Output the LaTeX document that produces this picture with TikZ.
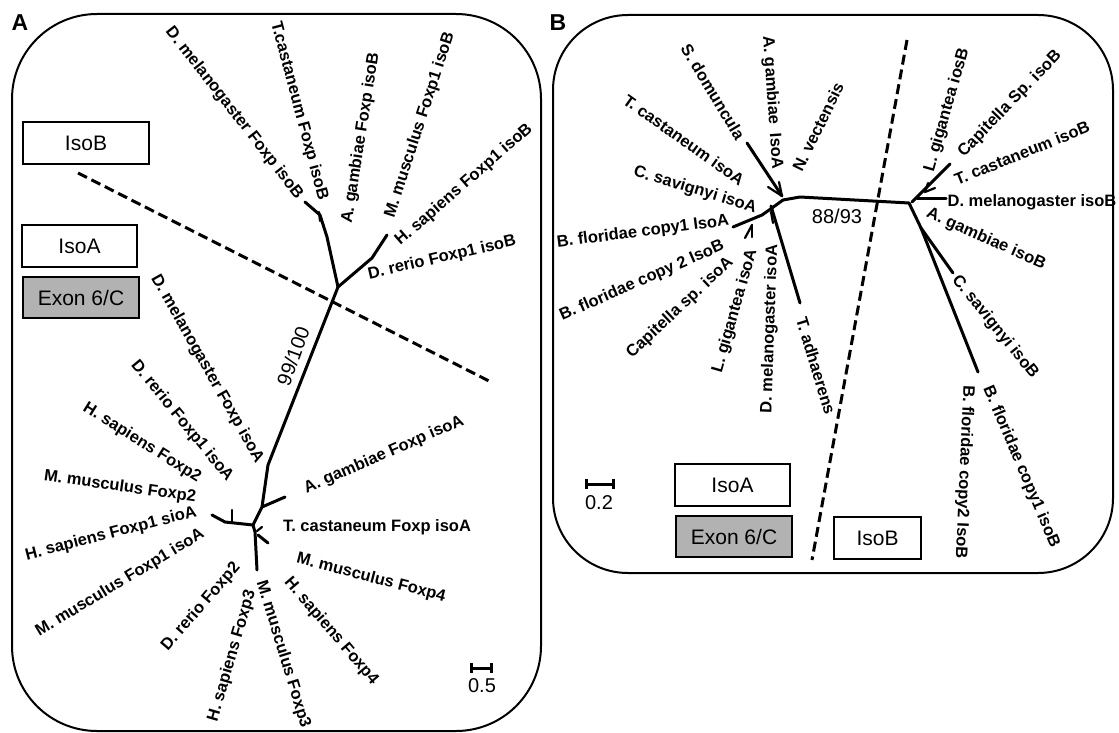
\documentclass[tikz,border=0pt]{standalone}
\usepackage{fontspec}
\usetikzlibrary{calc}
\setmainfont{Liberation Sans}
\begin{document}
\begin{tikzpicture}[x=1pt,y=-1pt,
  lab/.style={font=\fontsize{16.5}{19}\selectfont\bfseries, inner sep=0pt},
  num/.style={font=\fontsize{20}{23}\selectfont, inner sep=0pt},
  br/.style={line width=3pt, line cap=round, line join=round},
  tick/.style={line width=2.2pt, line cap=round},
  frm/.style={line width=2pt},
  legbox/.style={draw, line width=2.8pt, font=\fontsize{21}{24}\selectfont, inner sep=0pt},
  divider/.style={line width=3pt, dash pattern=on 10pt off 5pt},
  panel/.style={font=\fontsize{23}{26}\selectfont\bfseries, inner sep=0pt},
  sbar/.style={line width=3pt}]
\useasboundingbox (0,0) rectangle (1119,733);

% ---------------- Panel A ----------------
\node[panel] (PA) at (20,23) {A};
\draw[frm, rounded corners=85pt] (12,14) rectangle (541,731);

\node[legbox, minimum width=126pt, minimum height=42pt] (AisoB) at (86,143) {IsoB};
\node[legbox, minimum width=115pt, minimum height=42pt] (AisoA) at (79.5,246) {IsoA};
\node[legbox, fill=black!30, minimum width=116pt, minimum height=41pt] (Aexon) at (81,297.5) {Exon 6/C};

\coordinate (Ad1) at (78,173);
\coordinate (Ad2) at (491,382);
\draw[divider] (Ad1) -- (Ad2);

% tree A
\coordinate (a0) at (338,287);
\coordinate (a1) at (327,237);
\coordinate (a2) at (320,215);
\coordinate (a3) at (305,202);
\coordinate (a4) at (372,258);
\coordinate (a5) at (387,235);
\coordinate (a6) at (268,465);
\coordinate (a7) at (262,507);
\coordinate (a8) at (285,497);
\coordinate (a9) at (253,525);
\coordinate (a10) at (225,522);
\coordinate (a11) at (212,515);
\coordinate (a12) at (255,532);
\coordinate (a13) at (257,570);
\coordinate (a14) at (258,535);
\coordinate (a15) at (268,543);
\coordinate (t1a) at (319,212);
\coordinate (t1b) at (320,221);
\coordinate (t2a) at (232,510);
\coordinate (t2b) at (232,522);
\coordinate (t3a) at (257,531);
\coordinate (t3b) at (262,527);
\draw[br] (a3) -- (a2) -- (a1) -- (a0) -- (a4) -- (a5);
\draw[br] (a0) -- (a6) -- (a7) -- (a9) -- (a10) -- (a11);
\draw[br] (a7) -- (a8);
\draw[br] (a9) -- (a12) -- (a13);
\draw[br] (a14) -- (a15);
\draw[tick] (t1a) -- (t1b);
\draw[tick] (t2a) -- (t2b);
\draw[tick] (t3a) -- (t3b);

\node[num, rotate=70] (A99) at (293,356) {99/100};

% labels A
\node[lab, rotate=-52] (LA1) at (234,113) {D. melanogaster Foxp isoB};
\node[lab, rotate=-75] (LA2) at (299,111) {T.castaneum Foxp isoB};
\node[lab, rotate=81] (LA3) at (361,138) {A. gambiae Foxp isoB};
\node[lab, rotate=72] (LA4) at (420,125) {M. musculus Foxp1 isoB};
\node[lab, rotate=41] (LA5) at (464,185) {H. sapiens Foxp1 isoB};
\node[lab, rotate=13] (LA6) at (442,258) {D. rerio Foxp1 isoB};
\node[lab, rotate=-60.5] (LA7) at (207,369) {D. melanogaster Foxp isoA};
\node[lab, rotate=-50.5] (LA8) at (182,421) {D. rerio Foxp1 isoA};
\node[lab, rotate=-32] (LA9) at (142,443) {H. sapiens Foxp2};
\node[lab, rotate=-8] (LA10) at (120,487) {M. musculus Foxp2};
\node[lab, rotate=14.4] (LA11) at (111,534) {H. sapiens Foxp1 sioA};
\node[lab, rotate=31] (LA12) at (120,583) {M. musculus Foxp1 isoA};
\node[lab, rotate=49] (LA13) at (201,607) {D. rerio Foxp2};
\node[lab, rotate=73.7] (LA14) at (232,656) {H. sapiens Foxp3};
\node[lab, rotate=-73] (LA15) at (283,654) {M. musculus Foxp3};
\node[lab, rotate=-49.6] (LA16) at (331,631) {H. sapiens Foxp4};
\node[lab, rotate=-14.5] (LA17) at (371,578) {M. musculus Foxp4};
\node[lab] (LA18) at (377,527) {T. castaneum Foxp isoA};
\node[lab, rotate=23.5] (LA19) at (384,455) {A. gambiae Foxp isoA};

% scale bar A
\coordinate (sa1) at (471,668);
\coordinate (sa2) at (491,668);
\draw[sbar] (sa1) -- (sa2);
\draw[sbar] ($(sa1)+(0,-5)$) -- ($(sa1)+(0,5)$);
\draw[sbar] ($(sa2)+(0,-5)$) -- ($(sa2)+(0,5)$);
\node[num] (A05) at (482,686) {0.5};

% ---------------- Panel B ----------------
\node[panel] (PB) at (558,23) {B};
\draw[frm, rounded corners=75pt] (553,15) rectangle (1113,573);

\node[legbox, minimum width=115pt, minimum height=42pt] (BisoA) at (732.5,485) {IsoA};
\node[legbox, fill=black!30, minimum width=116pt, minimum height=41pt] (Bexon) at (734,536.5) {Exon 6/C};
\node[legbox, minimum width=87pt, minimum height=42pt] (BisoB) at (877.5,538) {IsoB};

\coordinate (Bd1) at (907,40);
\coordinate (Bd2) at (812,560);
\draw[divider] (Bd1) -- (Bd2);

% tree B
\coordinate (c0) at (783,200);
\coordinate (c1) at (800,197);
\coordinate (c2) at (909,203);
\coordinate (c3) at (747,143);
\coordinate (c4) at (782,196);
\coordinate (c5) at (772,208);
\coordinate (c6) at (762,215);
\coordinate (c7) at (733,227);
\coordinate (c8) at (771,206);
\coordinate (c9) at (800,303);
\coordinate (d1) at (912,202);
\coordinate (d2) at (950,164);
\coordinate (d3) at (917,198);
\coordinate (d4) at (946,198);
\coordinate (d5) at (921,228);
\coordinate (d6) at (953,273);
\coordinate (d7) at (978,372);
\draw[br] (c0) -- (c1) -- (c2);
\draw[br] (c3) -- (c4);
\draw[br] (c0) -- (c5) -- (c6) -- (c7);
\draw[br] (c8) -- (c9);
\draw[br] (d1) -- (d2);
\draw[br] (d3) -- (d4);
\draw[br] (c2) -- (d5) -- (d6);
\draw[br] (d5) -- (d7);
% small terminal ticks
\coordinate (u1) at (768,187);
\coordinate (u2) at (779,182);
\draw[tick] (c4) -- (u1);
\draw[tick] (c4) -- (u2);
\coordinate (v0) at (752,225);
\coordinate (v1) at (745,238);
\coordinate (v2) at (752,237);
\draw[tick] (v0) -- (v1);
\draw[tick] (v0) -- (v2);
\coordinate (w0) at (771,212);
\coordinate (w1) at (773,223);
\draw[tick] (w0) -- (w1);
\coordinate (x0) at (925,192);
\coordinate (x1) at (935,188);
\coordinate (x2) at (928,183);
\draw[tick] (x0) -- (x1);
\draw[tick] (x0) -- (x2);

\node[num] (B88) at (837,216) {88/93};

% labels B
\node[lab, rotate=-59] (LB1) at (713,92) {S. domuncula};
\node[lab, rotate=-86] (LB2) at (772,103) {A. gambiae\ \ IsoA};
\node[lab, rotate=64] (LB3) at (818,127) {N. vectensis};
\node[lab, rotate=-35.5] (LB4) at (684,140) {T. castaneum isoA};
\node[lab, rotate=-16.8] (LB5) at (695,190) {C. savignyi isoA};
\node[lab, rotate=7.3] (LB6) at (643,232) {B. floridae copy1 IsoA};
\node[lab, rotate=23.7] (LB7) at (642,281) {B. floridae copy 2 IsoB};
\node[lab, rotate=43] (LB8) at (680,308) {Capitella sp. isoA};
\node[lab, rotate=74] (LB9) at (735,311) {L. gigantea isoA};
\node[lab, rotate=88] (LB10) at (770,329) {D. melanogaster isoA};
\node[lab, rotate=-73] (LB11) at (816,366) {T. adhaerens};
\node[lab, rotate=74] (LB12) at (947,110) {L. gigantea iosB};
\node[lab, rotate=46] (LB13) at (1010,104) {Capitella Sp. isoB};
\node[lab, rotate=22] (LB14) at (1022,153) {T. castaneum isoB};
\node[lab] (LB15) at (1032,202) {D. melanogaster isoB};
\node[lab, rotate=-24] (LB16) at (986,239) {A. gambiae isoB};
\node[lab, rotate=-51] (LB17) at (995,327) {C. savignyi isoB};
\node[lab, rotate=-92.5] (LB18) at (964,472) {B. floridae copy2 IsoB};
\node[lab, rotate=-67] (LB19) at (1021,467) {B. floridae copy1 isoB};

% scale bar B
\coordinate (sb1) at (586,484);
\coordinate (sb2) at (613,484);
\draw[sbar] (sb1) -- (sb2);
\draw[sbar] ($(sb1)+(0,-5)$) -- ($(sb1)+(0,5)$);
\draw[sbar] ($(sb2)+(0,-5)$) -- ($(sb2)+(0,5)$);
\node[num] (B02) at (599,503) {0.2};
\end{tikzpicture}
\end{document}
